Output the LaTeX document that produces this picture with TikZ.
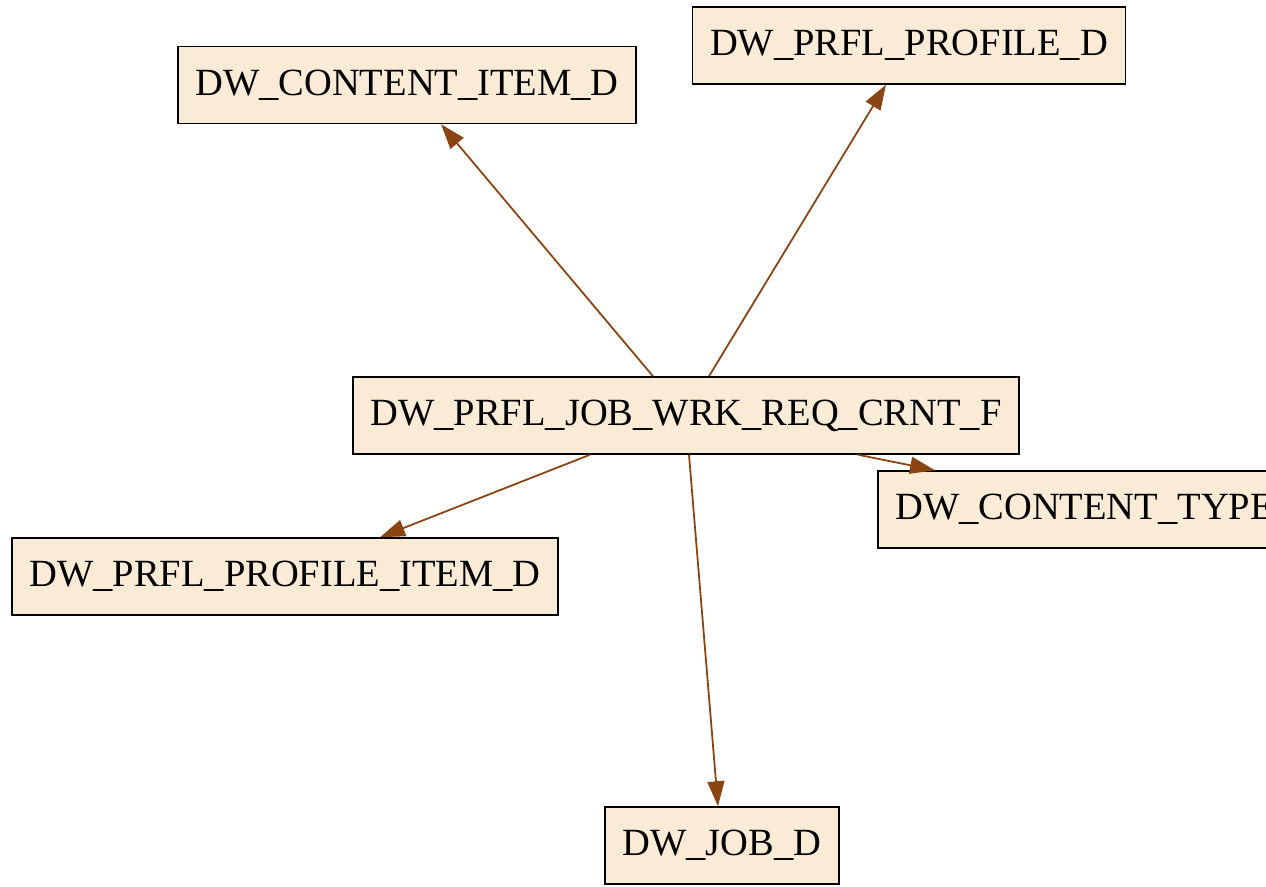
\documentclass[tikz,border=0pt]{standalone}
\usepackage{fontspec}
\setmainfont{Liberation Serif}
\usepackage{xcolor}
\definecolor{boxfill}{RGB}{250,235,215}
\definecolor{edgebrown}{RGB}{139,69,19}
\usepackage{tikz}
\usetikzlibrary{arrows.meta}
\tikzset{
  table/.style={draw=black,fill=boxfill,line width=1.5pt,%
    font=\fontsize{38.5}{40}\selectfont,inner xsep=17.5pt,minimum height=77pt},
  fk/.style={-{Triangle[length=25pt,width=17pt]},line width=1.8pt,draw=edgebrown,fill=edgebrown},
}
\begin{document}
\begin{tikzpicture}[x=1pt,y=-1pt]
\clip (0,0) rectangle (1266,886);
\node[table] (fact) at (686,415.5) {DW\_PRFL\_JOB\_WRK\_REQ\_CRNT\_F};
\node[table] (citem) at (407,85) {DW\_CONTENT\_ITEM\_D};
\node[table] (prof) at (909,45.5) {DW\_PRFL\_PROFILE\_D};
\node[table,anchor=west] (ctype) at (877,509.5) {DW\_CONTENT\_TYPE\_D};
\node[table] (pitem) at (285,576.5) {DW\_PRFL\_PROFILE\_ITEM\_D};
\node[table] (job) at (722,845.5) {DW\_JOB\_D};
\draw[fk] ([xshift=-33pt]fact.north) -- ([xshift=34pt]citem.south);
\draw[fk] ([xshift=23pt]fact.north) -- ([xshift=-23pt]prof.south);
\draw[fk] ([xshift=-96pt]fact.south) -- ([xshift=95pt]pitem.north);
\draw[fk] ([xshift=3pt]fact.south) -- ([xshift=-4pt]job.north);
\draw[fk] ([xshift=172pt]fact.south) -- ([xshift=58pt]ctype.north west);
\end{tikzpicture}
\end{document}
